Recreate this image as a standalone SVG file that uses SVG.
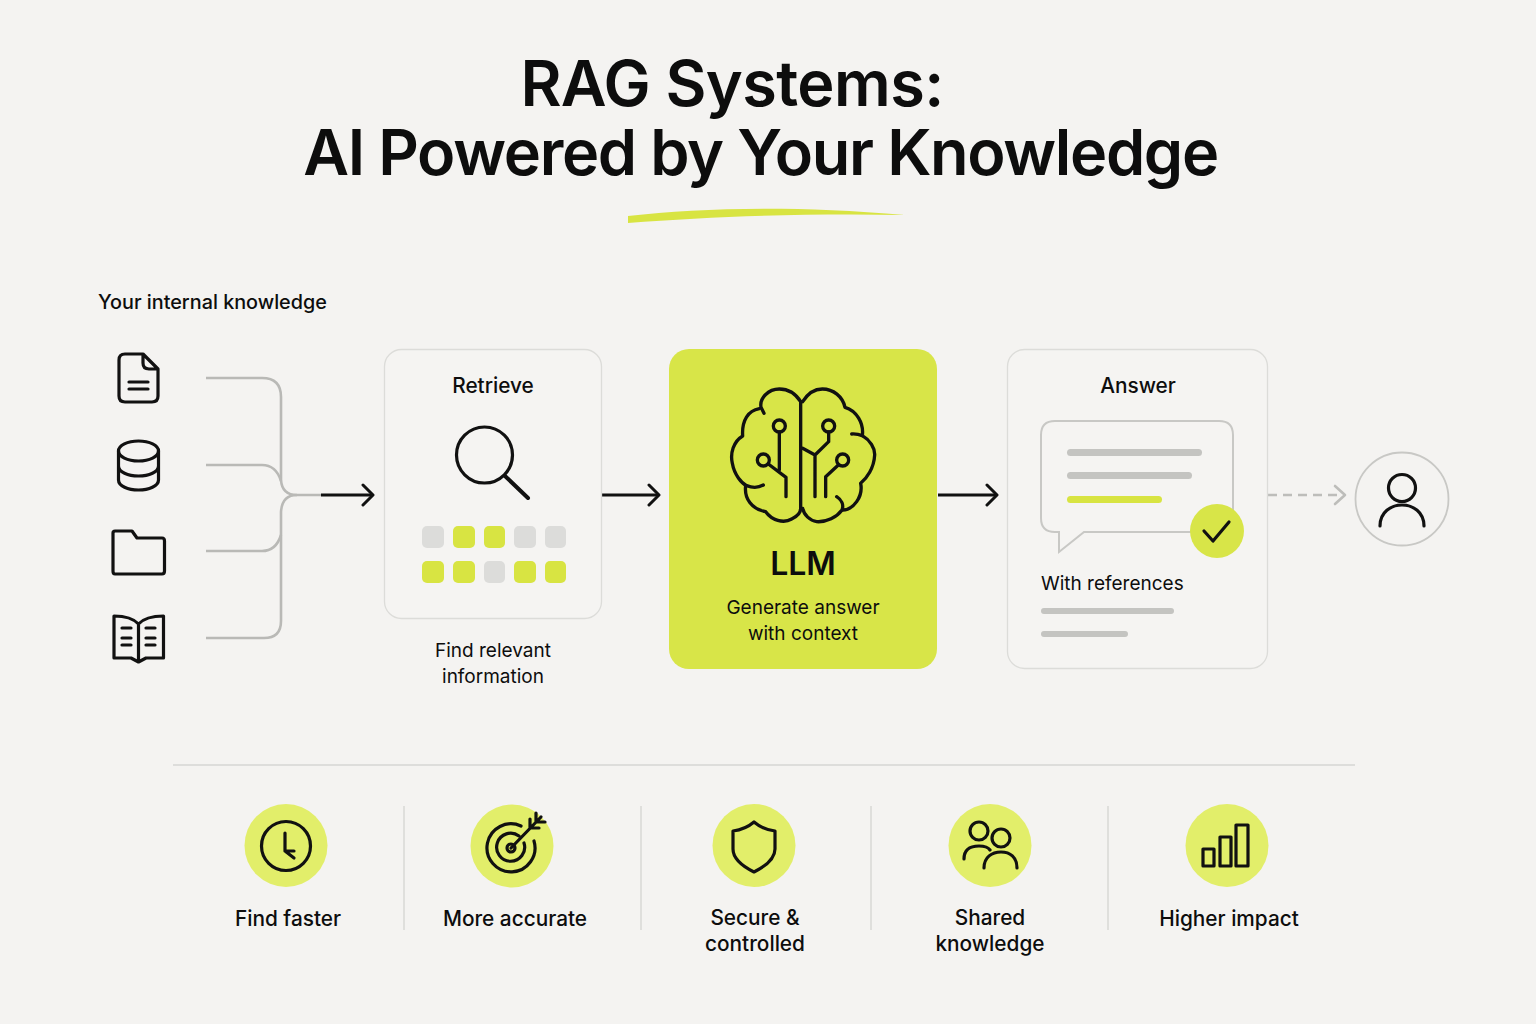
<svg xmlns="http://www.w3.org/2000/svg" width="1536" height="1024" viewBox="0 0 1536 1024">
<defs>
<marker id="ah" markerUnits="userSpaceOnUse" markerWidth="16" markerHeight="24" refX="14" refY="12" orient="auto"><path d="M4 2 L14 12 L4 22" fill="none" stroke="#111" stroke-width="3" stroke-linecap="round" stroke-linejoin="round"/></marker>
<marker id="ahg" markerUnits="userSpaceOnUse" markerWidth="16" markerHeight="24" refX="14" refY="12" orient="auto"><path d="M4 3 L14 12 L4 21" fill="none" stroke="#bdbdba" stroke-width="2.600" stroke-linecap="round" stroke-linejoin="round"/></marker>
</defs>
<style>
text{font-family:Inter,"Liberation Sans",sans-serif;fill:#0d0d0d;text-anchor:middle}
.t{font-size:63px;font-weight:600;letter-spacing:-.6px}
.h{font-size:19.8px;font-weight:500}
.b{font-size:19px;font-weight:400}
.m{font-size:20.800px;font-weight:500}
.i{fill:none;stroke:#111;stroke-width:3.200;stroke-linecap:round;stroke-linejoin:round}
.card{fill:#f5f4f2;stroke:#dcdcd9;stroke-width:1.3}
.g{fill:none;stroke:#b9b9b6;stroke-width:2.600}
.bar{fill:#c4c4c1}
.y{fill:#d8e442}
.tg{fill:#dcdcda}
.c{fill:#e2ee6a}
.sep{stroke:#d6d6d3;stroke-width:1.4}
</style>
<rect width="1536" height="1024" fill="#f4f3f1"/>
<g id="title">
<text class="t" x="732" y="106">RAG Systems:</text>
<text class="t" x="760.500" y="175" style="letter-spacing:-1.35px">AI Powered by Your Knowledge</text>
<path d="M628 216 C700 208 790 205 905 215 C800 213 710 217 628 223Z" fill="#d8e442"/>
</g>
<text class="h" x="98" y="309" style="text-anchor:start">Your internal knowledge</text>
<g id="source-doc" class="i"><path d="M119 360 Q119 354 125 354 H143 L158 369 V396 Q158 402 152 402 H125 Q119 402 119 396Z M143 354 V363 Q143 369 149 369 H158 M129 382 H148 M129 389 H148"/></g>
<g id="source-db" class="i"><ellipse cx="138.5" cy="451" rx="20" ry="10"/><path d="M118.500 451 V480 C118.500 486 128 490 138.500 490 S158.500 486 158.500 480 V451 M118.500 466 C118.500 472 128 476 138.500 476 S158.500 472 158.500 466"/></g>
<g id="source-folder" class="i"><path d="M113 533 Q113 531 115 531 H132 L137 538 H162 Q164.500 538 164.500 541 V571 Q164.500 574 162 574 H115 Q113 574 113 571Z"/></g>
<g id="source-book" class="i"><path d="M138.500 624 C133 618 123 616 114 616 V658 H131 L138.500 662 L146 658 H163.500 V616 C154 616 144 618 138.500 624 V660 M122 628 H131 M122 638 H131 M122 645 H131 M146 628 H155 M146 638 H155 M146 645 H155"/></g>
<g id="connectors">
<path class="g" d="M206 378 H262 Q281 378 281 397 V480 Q282 495 297 495 H321"/>
<path class="g" d="M206 465 H262 Q276 465 281 481"/>
<path class="g" d="M206 551 H262 Q276 551 281 535"/>
<path class="g" d="M206 638 H264 Q281 638 281 621 V512 Q282 495 297 495"/>
<path d="M321 495 H373" fill="none" stroke="#111" stroke-width="3" marker-end="url(#ah)"/>
<path d="M602 495 H659" fill="none" stroke="#111" stroke-width="3" marker-end="url(#ah)"/>
<path d="M938 495 H997" fill="none" stroke="#111" stroke-width="3" marker-end="url(#ah)"/>
<path d="M1268 495 H1345" fill="none" stroke="#bdbdba" stroke-width="2.600" stroke-dasharray="9 6" marker-end="url(#ahg)"/>
</g>
<g id="retrieve">
<rect class="card" x="384.500" y="349.500" width="217" height="269" rx="17"/>
<text class="m" x="493" y="393">Retrieve</text>
<g class="i"><circle cx="484.500" cy="455" r="28"/><path d="M505 476 L528 498" stroke-width="4"/></g>
<rect class="tg" x="422" y="526" width="22" height="22" rx="5"/><rect class="y" x="453" y="526" width="22" height="22" rx="5"/><rect class="y" x="484" y="526" width="21" height="22" rx="5"/><rect class="tg" x="514" y="526" width="22" height="22" rx="5"/><rect class="tg" x="545" y="526" width="21" height="22" rx="5"/>
<rect class="y" x="422" y="561" width="22" height="22" rx="5"/><rect class="y" x="453" y="561" width="22" height="22" rx="5"/><rect class="tg" x="484" y="561" width="21" height="22" rx="5"/><rect class="y" x="514" y="561" width="22" height="22" rx="5"/><rect class="y" x="545" y="561" width="21" height="22" rx="5"/>
<text class="b" x="493" y="657">Find relevant</text>
<text class="b" x="493" y="683">information</text>
</g>
<g id="llm">
<rect x="669" y="349" width="268" height="320" rx="20" fill="#d8e548"/>
<g transform="translate(700,370) scale(.33333)" fill="none" stroke="#111" stroke-width="10" stroke-linecap="round" stroke-linejoin="round">
<path d="M302 95 C285 68 260 57 238 57 C205 57 178 85 183 112 L192 130"/>
<path d="M178 116 C145 122 125 150 128 198 C100 215 90 250 97 280 C103 315 125 340 140 347 C160 355 178 352 190 345"/>
<path d="M137 347 C132 385 155 418 197 425 C215 450 250 462 275 447 C295 438 302 425 302 415 V95"/>
<path d="M308 95 C325 68 345 57 367 57 C400 57 428 80 435 112 C470 122 492 160 487 197 C510 210 525 235 524 255 C522 295 500 325 482 340 C490 380 460 420 428 420"/>
<path d="M455 192 Q472 191 487 197 M410 380 C425 390 432 405 426 420 C410 442 380 457 350 455 C330 452 312 435 308 415 M308 235 L345 255 L386 215 V186 M345 255 V380 M377 380 V320 L415 285 M238 186 V300 M205 282 L258 322 V380"/>
<circle cx="238" cy="168" r="18"/><circle cx="190" cy="270" r="18"/><circle cx="386" cy="168" r="18"/><circle cx="428" cy="270" r="18"/>
</g>
<text x="803" y="575" style="font-size:32px;font-weight:600">LLM</text>
<text class="b" x="803" y="614">Generate answer</text>
<text class="b" x="803" y="640">with context</text>
</g>
<g id="answer">
<rect class="card" x="1007.500" y="349.500" width="260" height="319" rx="17"/>
<text class="m" x="1138" y="393">Answer</text>
<path d="M1055 421 H1219 Q1233 421 1233 435 V518 Q1233 532 1219 532 H1084 L1059 552 V532 H1055 Q1041 532 1041 518 V435 Q1041 421 1055 421Z" fill="none" stroke="#c8c8c5" stroke-width="2"/>
<rect class="bar" x="1067" y="449" width="135" height="7" rx="3.500"/>
<rect class="bar" x="1067" y="472" width="125" height="7" rx="3.500"/>
<rect class="y" x="1067" y="496" width="95" height="7" rx="3.500"/>
<circle cx="1217" cy="531" r="27" fill="#d8e548"/>
<path class="i" d="M1204 531 L1213 541 L1229 522"/>
<text class="b" x="1041" y="590" style="text-anchor:start">With references</text>
<rect class="bar" x="1041" y="608" width="133" height="6" rx="3"/>
<rect class="bar" x="1041" y="631" width="87" height="6" rx="3"/>
</g>
<g id="user">
<circle cx="1402" cy="499" r="46.500" fill="none" stroke="#c8c8c5" stroke-width="1.800"/>
<g class="i" style="stroke-width:3.200"><circle cx="1402" cy="488" r="13.500"/><path d="M1380 526 C1380 512 1391 505 1402 505 S1424 512 1424 526"/></g>
</g>
<g id="benefits-rules">
<line class="sep" x1="173" y1="765" x2="1355" y2="765"/>
<line class="sep" x1="404" y1="806" x2="404" y2="930"/><line class="sep" x1="641" y1="806" x2="641" y2="930"/><line class="sep" x1="871" y1="806" x2="871" y2="930"/><line class="sep" x1="1108" y1="806" x2="1108" y2="930"/>
</g>
<g id="benefit-faster">
<circle class="c" cx="286" cy="845.500" r="41.500"/>
<g class="i"><circle cx="286" cy="846" r="24.500"/><path d="M285 833 V851 H294 M285 851 L294 858"/></g>
<text class="m" x="288" y="925.500">Find faster</text>
</g>
<g id="benefit-accurate">
<circle class="c" cx="512" cy="846" r="41.500"/>
<g class="i"><path d="M521 826 A24 24 0 1 0 534 841 M519 836 A14 14 0 1 0 524 843"/><circle cx="511" cy="848" r="4"/><path d="M511 848 L541 817 M530 819 L530 828 L539 828 M536 813 L536 822 L545 822"/></g>
<text class="m" x="515" y="925.500">More accurate</text>
</g>
<g id="benefit-secure">
<circle class="c" cx="754" cy="845.500" r="41.500"/>
<path class="i" d="M754 822 C747 828 741 830 733 831 V849 C733 858 742 866 754 872 C766 866 775 858 775 849 V831 C767 830 761 828 754 822Z"/>
<text class="m" x="755" y="924.500">Secure &amp;</text><text class="m" x="755" y="950.500">controlled</text>
</g>
<g id="benefit-shared">
<circle class="c" cx="990" cy="845.500" r="41.500"/>
<g class="i"><circle cx="979" cy="831" r="9"/><circle cx="1001" cy="838" r="9"/><path d="M964 859 C964 848 972 846 979 846 C984 846 988 847 990 850 M984 868 C984 857 992 852 1001 852 S1017 857 1017 868"/></g>
<text class="m" x="990" y="924.500">Shared</text><text class="m" x="990" y="950.500">knowledge</text>
</g>
<g id="benefit-impact">
<circle class="c" cx="1227" cy="845.500" r="41.500"/>
<g class="i"><rect x="1203" y="849" width="11" height="17"/><rect x="1220" y="837" width="11" height="29"/><rect x="1236" y="825" width="12" height="41"/></g>
<text class="m" x="1229" y="925.500">Higher impact</text>
</g>
</svg>
